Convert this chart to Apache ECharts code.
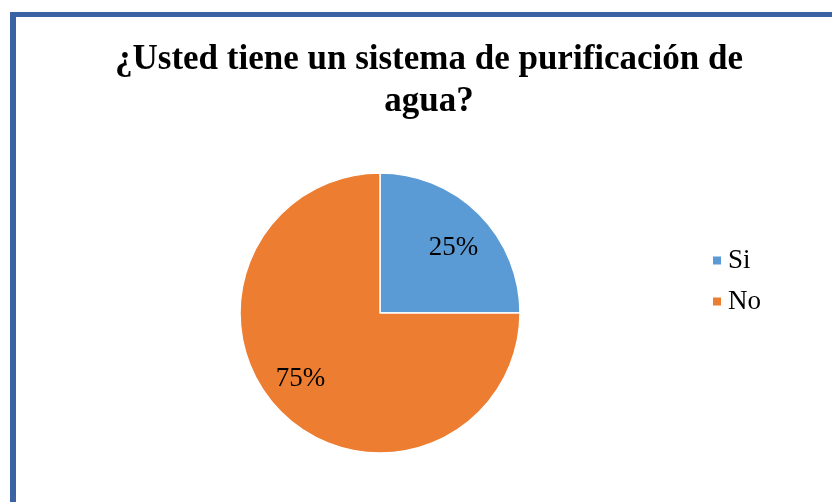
<!DOCTYPE html>
<html>
<head>
<meta charset="utf-8">
<script src="https://cdn.jsdelivr.net/npm/echarts@6/dist/echarts.min.js"></script>
<style>
  html, body { margin: 0; padding: 0; background: #fff; }
  #chart { width: 832px; height: 502px; }
</style>
</head>
<body>
<div id="chart"></div>
<script>
const titleText = '¿Usted tiene un sistema de purificación de\nagua?'
const categories = ['Si', 'No']
const values = [25, 75]
const sliceColors = ['#5b9bd5', '#ed7d31']
// hand-tuned label nudges so the percentages sit where the original puts them
const labelOffsets = [[22, -13], [-28, 14]]

const serif = '"Liberation Serif", "Times New Roman", serif'
const chart = echarts.init(document.getElementById('chart'))

chart.setOption({
  animation: false,
  backgroundColor: '#fff',
  graphic: [
    { type: 'rect', shape: { x: 10, y: 12, width: 6, height: 490 }, style: { fill: '#3b62a3' } },
    { type: 'rect', shape: { x: 10, y: 12, width: 822, height: 5 }, style: { fill: '#3b62a3' } },
    {
      type: 'text',
      x: 429,
      y: 81,
      style: {
        text: titleText,
        fill: '#000',
        font: 'bold 35px ' + serif,
        lineHeight: 42,
        align: 'center',
        verticalAlign: 'middle'
      }
    }
  ],
  legend: {
    orient: 'vertical',
    left: 706,
    top: 242,
    itemWidth: 10,
    itemHeight: 10,
    itemGap: 14,
    icon: 'rect',
    textStyle: { fontFamily: serif, fontSize: 27, color: '#000', padding: [0, 0, 0, 1] },
    data: categories
  },
  series: [{
    type: 'pie',
    center: [380, 313],
    radius: 140,
    startAngle: 90,
    clockwise: true,
    itemStyle: { borderColor: '#fff', borderWidth: 1.5 },
    label: {
      show: true,
      position: 'inside',
      formatter: '{d}%',
      fontFamily: serif,
      fontSize: 27,
      color: '#000'
    },
    labelLine: { show: false },
    emphasis: { disabled: true },
    data: categories.map((name, i) => ({
      name,
      value: values[i],
      itemStyle: { color: sliceColors[i] },
      label: { offset: labelOffsets[i] }
    }))
  }]
})
</script>
</body>
</html>
